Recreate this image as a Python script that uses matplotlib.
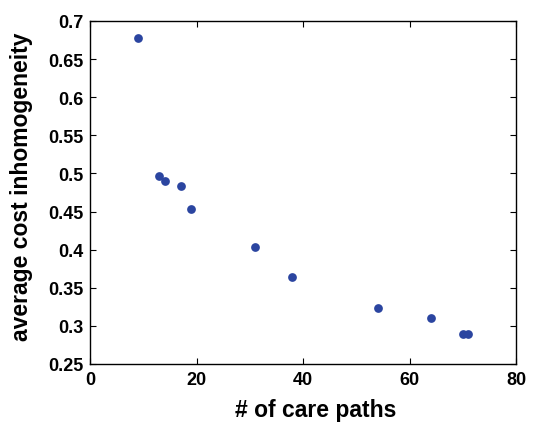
import matplotlib
matplotlib.use("Agg")
import matplotlib.pyplot as plt

# number of care paths vs average cost inhomogeneity
n_paths = [9, 13, 14, 17, 19, 31, 38, 54, 64, 70, 71]
avg_inhomogeneity = [0.678, 0.496, 0.490, 0.484, 0.454, 0.404, 0.364, 0.324, 0.310, 0.289, 0.290]

x_ticks = [0, 20, 40, 60, 80]
y_ticks = [0.25, 0.3, 0.35, 0.4, 0.45, 0.5, 0.55, 0.6, 0.65, 0.7]
y_tick_labels = ["0.25", "0.3", "0.35", "0.4", "0.45", "0.5", "0.55", "0.6", "0.65", "0.7"]

plt.rcParams['font.family'] = ['Liberation Sans', 'DejaVu Sans']

fig = plt.figure(figsize=(5.37, 4.27), dpi=100)
ax = fig.add_axes([0.1676, 0.1452, 0.7934, 0.8033])

ax.plot(n_paths, avg_inhomogeneity, 'o', color='#2B45A0', markersize=6.3, markeredgewidth=0)

ax.set_xlim(0, 80)
ax.set_ylim(0.25, 0.7)
ax.set_xticks(x_ticks)
ax.set_yticks(y_ticks)
ax.set_yticklabels(y_tick_labels)
ax.tick_params(direction='in', top=True, right=True, length=4, width=0.8,
               labelsize=13, pad=5)
for lbl in ax.get_xticklabels() + ax.get_yticklabels():
    lbl.set_fontweight('bold')
for sp in ax.spines.values():
    sp.set_linewidth(1.0)

ax.set_xlabel("# of care paths", fontsize=16.5, fontweight='bold')
ax.set_ylabel("average cost inhomogeneity", fontsize=16.5, fontweight='bold')
ax.xaxis.set_label_coords(0.53, -0.10)
ax.yaxis.set_label_coords(-0.134, 0.52)

fig.savefig("out.png", dpi=100)
